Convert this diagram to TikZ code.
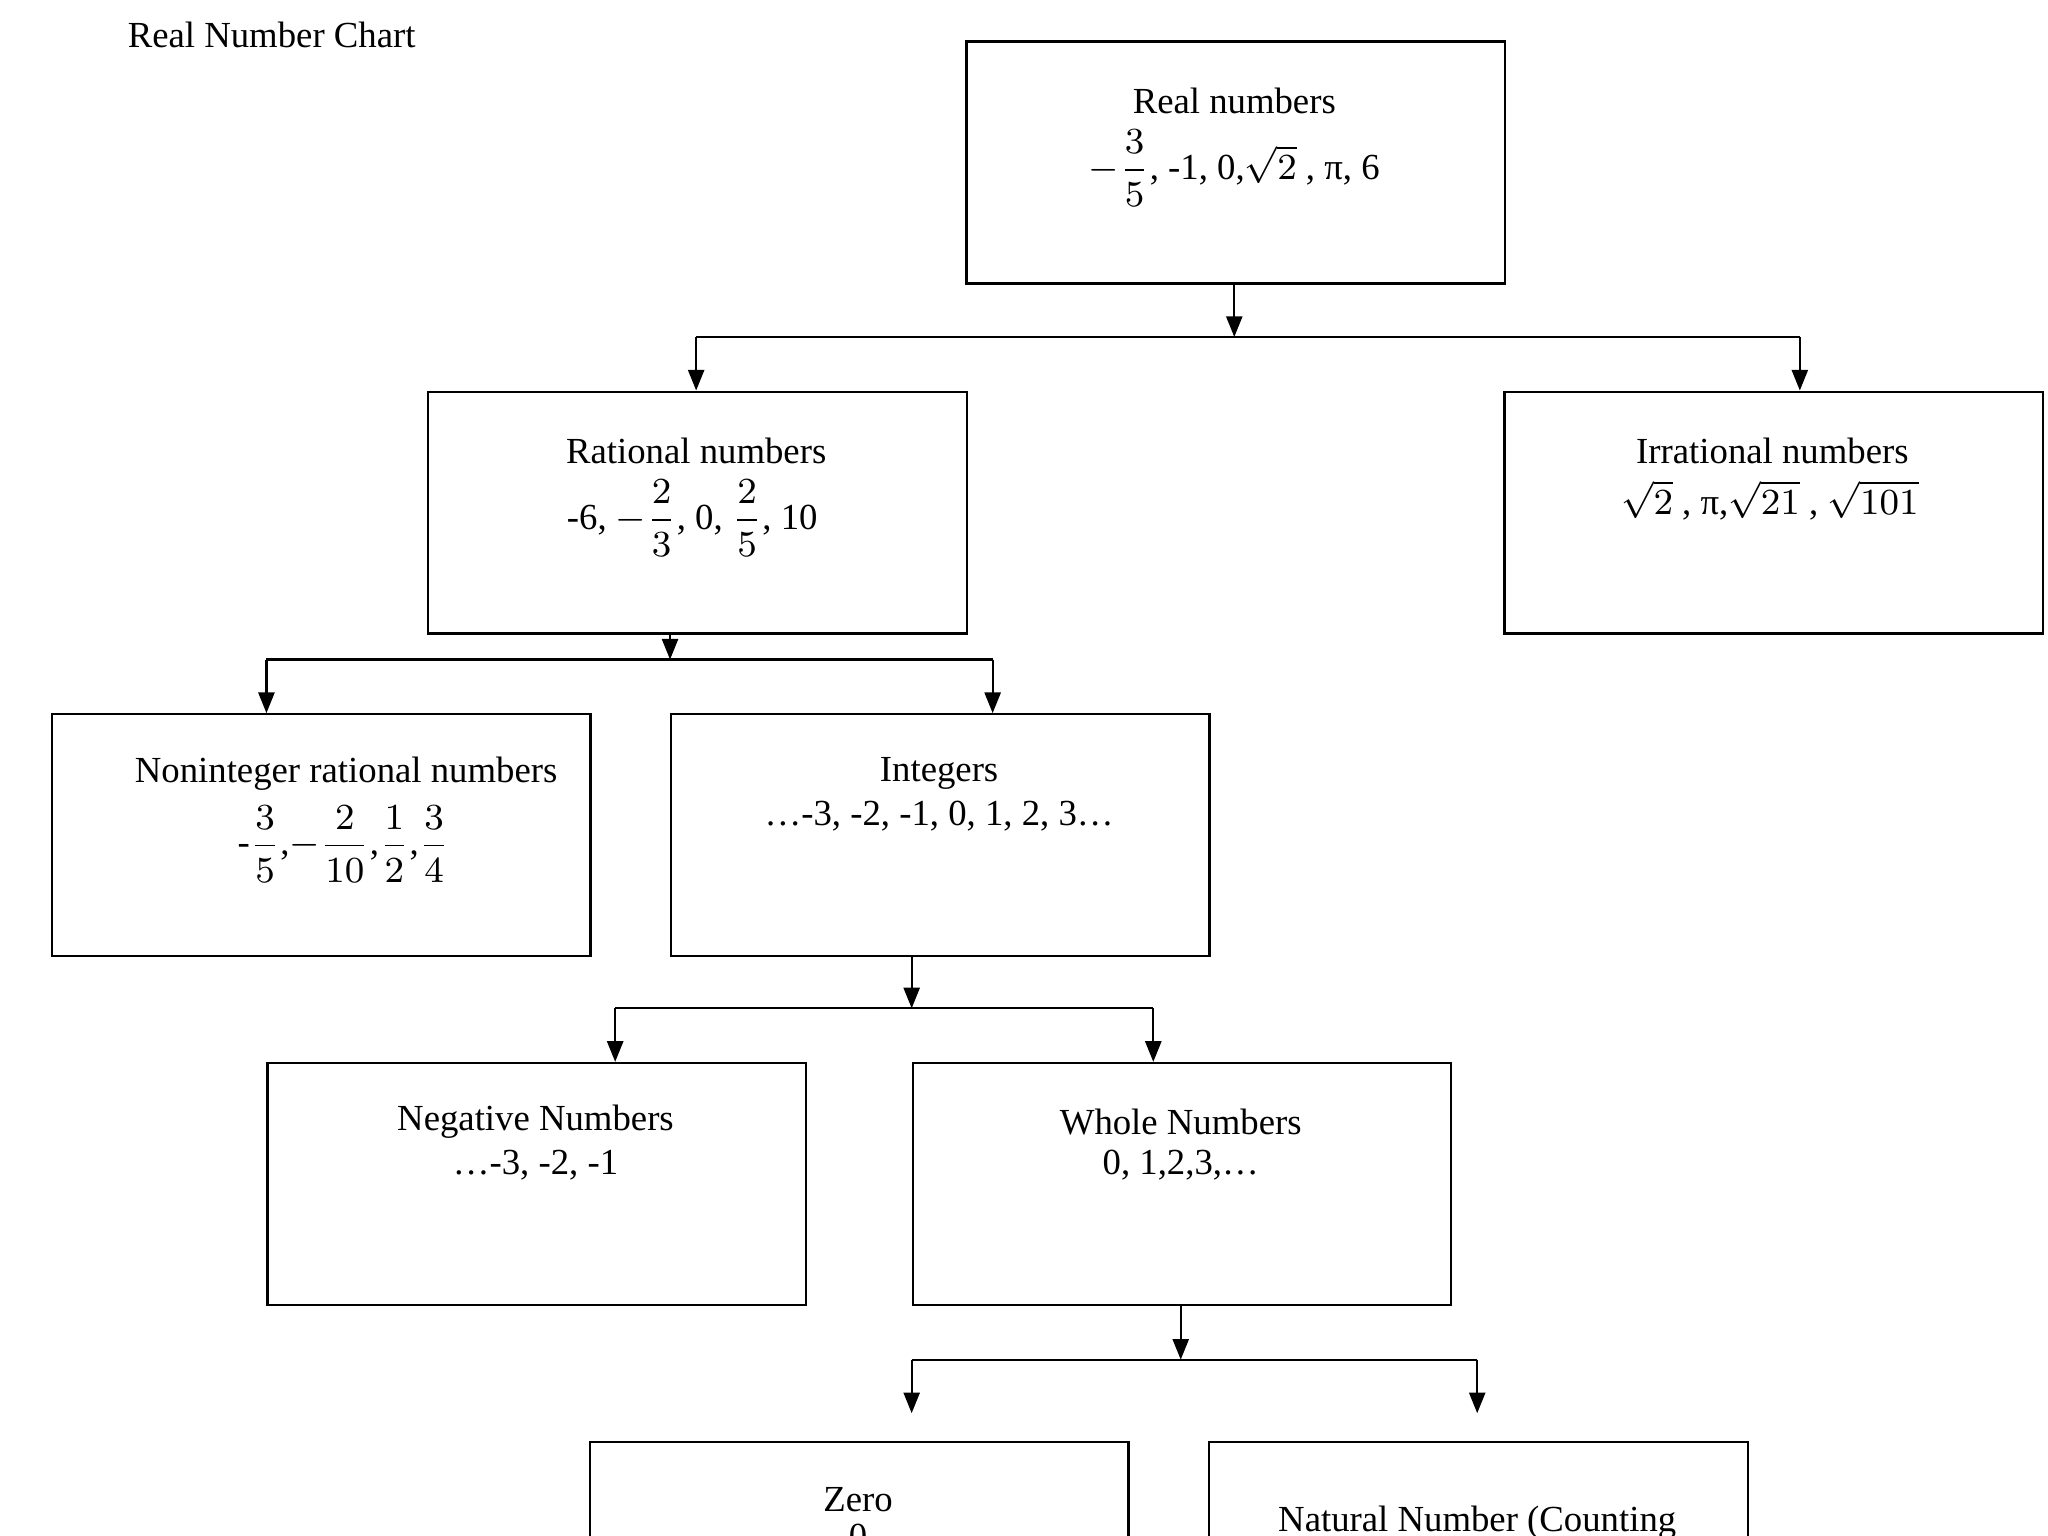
\documentclass[tikz,border=0pt]{standalone}
\usepackage{amsmath}
\usepackage{fontspec}
\setmainfont{Liberation Serif}
\usetikzlibrary{arrows.meta}
\begin{document}
\begin{tikzpicture}[x=0.01cm,y=-0.01cm,
  box/.style={draw,line width=0.5pt,minimum width=4.12cm,minimum height=1.85cm,anchor=north west,inner sep=0},
  txt/.style={font=\fontsize{8}{9.5}\selectfont,inner sep=0,align=center},
  ln/.style={line width=0.5pt},
  arr/.style={line width=0.5pt,-{Triangle[length=4.5pt,width=3.5pt]}}]
\clip (0,0) rectangle (1568,1176);
\useasboundingbox (0,0) rectangle (1568,1176);
\node[txt] (title) at (208,27) {Real Number Chart};
\node[box] (real) at (739,31) {};
\node[box] (rat) at (327,299) {};
\node[box] (irr) at (1151,299) {};
\node[box] (nonint) at (39,546) {};
\node[box] (int) at (513,546) {};
\node[box] (neg) at (204,813) {};
\node[box] (whole) at (698,813) {};
\node[box] (zero) at (451,1103) {};
\node[box] (nat) at (925,1103) {};
% texts
\node[txt] (t1) at (945,77) {Real numbers};
\node[txt] (t1b) at (945,129) {$-\dfrac{3}{5}$, -1, 0,$\sqrt{2}$ , π, 6};
\node[txt] (t2) at (533,345) {Rational numbers};
\node[txt] (t2b) at (530,397) {-6, $-\dfrac{2}{3}$, 0, $\dfrac{2}{5}$, 10};
\node[txt] (t3) at (1357,345) {Irrational numbers};
\node[txt] (t3b) at (1355,383) {$\sqrt{2}$ , π,$\sqrt{21}$ , $\sqrt{101}$};
\node[txt] (t4) at (265,592) {Noninteger rational numbers};
\node[txt] (t4b) at (263,646) {-$\dfrac{3}{5}$,$-\dfrac{2}{10}$,$\dfrac{1}{2}$,$\dfrac{3}{4}$};
\node[txt] (t5) at (719,592) {Integers};
\node[txt] (t5b) at (719,625) {\dots-3, -2, -1, 0, 1, 2, 3\dots};
\node[txt] (t6) at (410,859) {Negative Numbers};
\node[txt] (t6b) at (410,892) {\dots-3, -2, -1};
\node[txt] (t7) at (904,859) {Whole Numbers};
\node[txt] (t7b) at (904,892) {0, 1,2,3,\dots};
\node[txt] (t8) at (657,1148) {Zero};
\node[txt,anchor=north] (t8b) at (657,1166) {0};
\node[txt] (t9) at (1131,1166) {Natural Number (Counting};
% connectors
\coordinate (j1) at (945,258); \coordinate (j1l) at (533,258); \coordinate (j1r) at (1378,258);
\draw[arr] (j1 |- real.south) -- (j1);
\draw[ln] (j1l) -- (j1r);
\draw[arr] (j1l) -- (j1l |- rat.north);
\draw[arr] (j1r) -- (j1r |- irr.north);
\coordinate (j2) at (513,505); \coordinate (j2l) at (204,505); \coordinate (j2r) at (760,505);
\draw[arr] (j2 |- rat.south) -- (j2);
\draw[ln] (j2l) -- (j2r);
\draw[arr] (j2l) -- (j2l |- nonint.north);
\draw[arr] (j2r) -- (j2r |- int.north);
\coordinate (j3) at (698,772); \coordinate (j3l) at (471,772); \coordinate (j3r) at (883,772);
\draw[arr] (j3 |- int.south) -- (j3);
\draw[ln] (j3l) -- (j3r);
\draw[arr] (j3l) -- (j3l |- neg.north);
\draw[arr] (j3r) -- (j3r |- whole.north);
\coordinate (j4) at (904,1041); \coordinate (j4l) at (698,1041); \coordinate (j4r) at (1131,1041);
\coordinate (e4l) at (698,1082); \coordinate (e4r) at (1131,1082);
\draw[arr] (j4 |- whole.south) -- (j4);
\draw[ln] (j4l) -- (j4r);
\draw[arr] (j4l) -- (e4l);
\draw[arr] (j4r) -- (e4r);
\end{tikzpicture}
\end{document}
